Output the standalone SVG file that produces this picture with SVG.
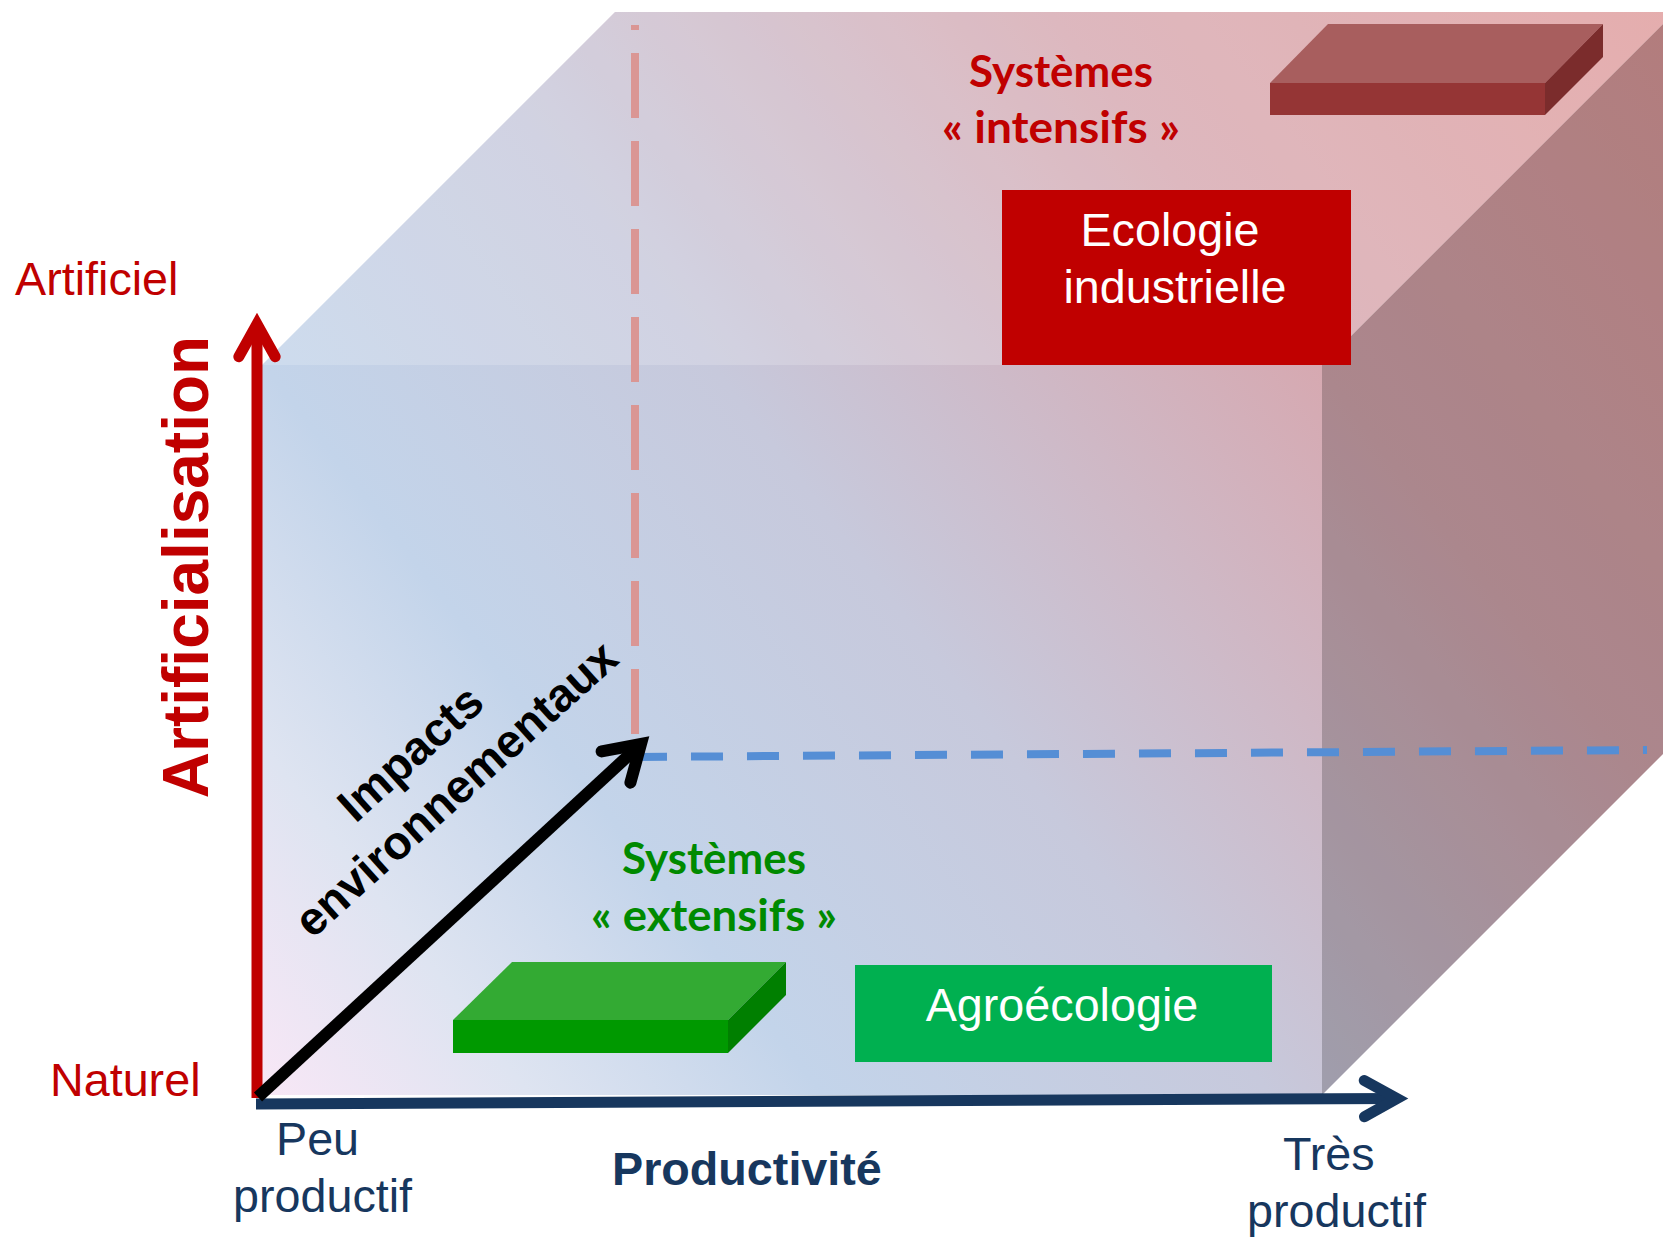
<svg xmlns="http://www.w3.org/2000/svg" width="1663" height="1239" viewBox="0 0 1663 1239">
  <style>
    .sans { font-family: "Liberation Sans", Arial, sans-serif; }
    .red-lbl { fill: #C00000; font-size: 46.7px; }
    .navy-lbl { fill: #17375E; font-size: 46.7px; }
    .sys { font-family: Lato, "Open Sans", sans-serif; font-weight: bold; font-size: 43px; text-anchor: middle; }
    .box-txt { fill: #FFFFFF; font-size: 46.7px; text-anchor: middle; }
    .guide { fill: none; stroke-width: 8; }
    .axis { fill: none; stroke-linecap: butt; }
    .head { fill: none; stroke-width: 1; stroke-linecap: round; stroke-linejoin: miter; }
  </style>
  <defs>
    <!-- shared colour ramp for the whole cube: pale pink -> light blue -> dusty rose -->
    <linearGradient id="cubeFill" gradientUnits="userSpaceOnUse" x1="262" y1="1095" x2="1675" y2="12">
      <stop offset="0" stop-color="#F8E7F6"/>
      <stop offset="0.12" stop-color="#DEE4F1"/>
      <stop offset="0.25" stop-color="#C3D4EA"/>
      <stop offset="0.45" stop-color="#C7C9DC"/>
      <stop offset="0.72" stop-color="#D6A9B1"/>
      <stop offset="1" stop-color="#E09C9C"/>
    </linearGradient>
    <marker id="headRed" markerUnits="strokeWidth" orient="auto" overflow="visible" markerWidth="1" markerHeight="1" refX="0" refY="0">
      <path class="head" d="M-2.97,-1.65 L0,0 L-2.97,1.65" stroke="#C00000"/>
    </marker>
    <marker id="headNavy" markerUnits="strokeWidth" orient="auto" overflow="visible" markerWidth="1" markerHeight="1" refX="0" refY="0">
      <path class="head" d="M-2.97,-1.65 L0,0 L-2.97,1.65" stroke="#17375E"/>
    </marker>
    <marker id="headBlack" markerUnits="strokeWidth" orient="auto" overflow="visible" markerWidth="1" markerHeight="1" refX="0" refY="0">
      <path class="head" d="M-2.83,-1.77 L0,0 L-2.83,1.77" stroke="#000000"/>
    </marker>
  </defs>

  <!-- translucent cube: front, top (lighter) and right (darker) faces -->
  <g id="cube">
    <rect x="262" y="365" width="1060" height="730" fill="url(#cubeFill)"/>
    <polygon points="262,365 615,12 1663,12 1663,24 1322,365" fill="url(#cubeFill)"/>
    <polygon points="262,365 615,12 1663,12 1663,24 1322,365" fill="#FFFFFF" fill-opacity="0.18"/>
    <polygon points="1322,365 1663,24 1663,754 1322,1095" fill="url(#cubeFill)"/>
    <polygon points="1322,365 1663,24 1663,754 1322,1095" fill="#000000" fill-opacity="0.2"/>
  </g>

  <!-- projection guides -->
  <g id="guides">
    <line class="guide" x1="635" y1="734" x2="635" y2="25" stroke="#DA9694" stroke-dasharray="65 23"/>
    <line class="guide" x1="635" y1="757" x2="1647" y2="750" stroke="#558ED5" stroke-dasharray="32 24"/>
  </g>

  <g id="slab-intensive">
    <polygon points="1328,24 1603,24 1545,83 1270,83" fill="#A85E5E"/>
    <rect x="1270" y="83" width="275" height="32" fill="#953535"/>
    <polygon points="1545,83 1603,24 1603,57 1545,115" fill="#7B2C2C"/>
  </g>

  <g id="label-intensive" class="sys" fill="#C00000">
    <text x="1061" y="87" textLength="184" lengthAdjust="spacingAndGlyphs">Systèmes</text>
    <text x="1061" y="143" textLength="238" lengthAdjust="spacingAndGlyphs">« intensifs »</text>
  </g>

  <g id="node-ecologie">
    <rect x="1002" y="190" width="349" height="175" fill="#C00000"/>
    <text class="sans box-txt" x="1170" y="246">Ecologie</text>
    <text class="sans box-txt" x="1175" y="303">industrielle</text>
  </g>

  <g id="slab-extensive">
    <polygon points="512,962 786,962 728,1020 453,1020" fill="#33AA33"/>
    <rect x="453" y="1020" width="275" height="33" fill="#009900"/>
    <polygon points="728,1020 786,962 786,995 728,1053" fill="#007F00"/>
  </g>

  <g id="label-extensive" class="sys" fill="#008A00">
    <text x="714" y="874" textLength="184" lengthAdjust="spacingAndGlyphs">Systèmes</text>
    <text x="714" y="931" textLength="246" lengthAdjust="spacingAndGlyphs">« extensifs »</text>
  </g>

  <g id="node-agroecologie">
    <rect x="855" y="965" width="417" height="97" fill="#00B050"/>
    <text class="sans box-txt" x="1062" y="1021">Agroécologie</text>
  </g>

  <!-- the three axes -->
  <g id="connectors">
    <path class="axis" d="M257,1098 V324" stroke="#C00000" stroke-width="11" marker-end="url(#headRed)"/>
    <path class="axis" d="M256,1104 L1397,1098.5" stroke="#17375E" stroke-width="11" marker-end="url(#headNavy)"/>
    <path class="axis" d="M258,1097 L641,744" stroke="#000000" stroke-width="12" marker-end="url(#headBlack)"/>
  </g>

  <g id="axis-labels" class="sans">
    <text class="red-lbl" x="15" y="295">Artificiel</text>
    <text class="red-lbl" x="50" y="1096">Naturel</text>
    <text transform="translate(208,567) rotate(-90)" text-anchor="middle" font-size="64" font-weight="bold" fill="#C00000">Artificialisation</text>
    <g transform="translate(421,765) rotate(-42)" text-anchor="middle" font-size="46.7" font-weight="bold" fill="#000000">
      <text x="0" y="0">Impacts</text>
      <text x="10" y="57">environnementaux</text>
    </g>
    <text class="navy-lbl" x="276" y="1155">Peu</text>
    <text class="navy-lbl" x="233" y="1212">productif</text>
    <text class="navy-lbl" x="612" y="1185" font-weight="bold">Productivité</text>
    <text class="navy-lbl" x="1283" y="1170">Très</text>
    <text class="navy-lbl" x="1247" y="1227">productif</text>
  </g>
</svg>
